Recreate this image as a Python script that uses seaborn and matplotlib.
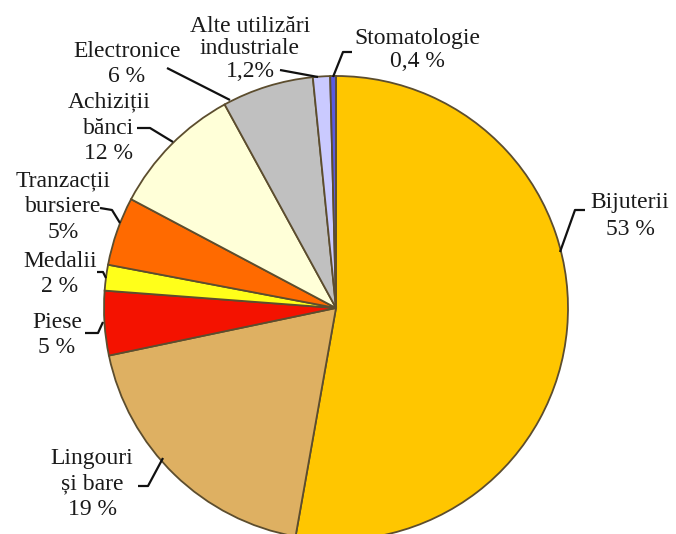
import matplotlib
matplotlib.use("Agg")
import matplotlib.pyplot as plt
import seaborn as sns

sns.set_theme(style="white")
plt.rcParams['font.family'] = 'serif'
plt.rcParams['font.serif'] = ['Liberation Serif', 'DejaVu Serif']

# Data (slice shares as drawn, clockwise from the top)
categories = ["Bijuterii", "Lingouri și bare", "Piese", "Medalii", "Tranzacții bursiere",
              "Achiziții bănci", "Electronice", "Alte utilizări industriale", "Stomatologie"]
values = [53, 19, 4.5, 1.8, 4.8, 9.3, 6.4, 1.2, 0.4]
labels = ["Bijuterii\n53 %", "Lingouri\nși bare\n19 %", "Piese\n5 %", "Medalii\n2 %",
          "Tranzacții\nbursiere\n5%", "Achiziții\nbănci\n12 %", "Electronice\n6 %",
          "Alte utilizări\nindustriale\n1,2%", "Stomatologie\n0,4 %"]
colors = ["#FFC600", "#DEB062", "#F41200", "#FFFF1A", "#FF6A00",
          "#FFFFD8", "#C0C0C0", "#CACAFF", "#5A5AE0"]

W, H = 676, 534
fig = plt.figure(figsize=(W / 100, H / 100), dpi=100)
ax = fig.add_axes([0, 0, 1, 1])

cx, cy, r = 336, H - 308, 232
ax.pie(values, colors=colors, startangle=90, counterclock=False,
       center=(cx, cy), radius=r,
       wedgeprops=dict(edgecolor="#5c4d2e", linewidth=1.3))
ax.set_xlim(0, W)
ax.set_ylim(0, H)
ax.set_aspect('equal')
ax.axis('off')

# label positions (pixel coords, y from top) and leader lines
label_pos = [(630, 216), (92, 484), (57, 335), (60, 274), (63, 207),
             (109, 128), (127, 64), (250, 49), (417, 50)]
leaders = [
    [(585, 210), (575, 210), (560, 252)],
    [(138, 486), (148, 486), (163, 458)],
    [(85, 333), (98, 333), (103, 322)],
    [(97, 272), (103, 272), (106, 278)],
    [(100, 208), (112, 210), (120, 223)],
    [(137, 128), (150, 128), (173, 142)],
    [(167, 68), (230, 100)],
    [(280, 70), (318, 77)],
    [(352, 52), (343, 52), (333, 77)],
]
spacings = [1.35, 1.3, 1.3, 1.3, 1.3, 1.3, 1.3, 1.1, 1.15]

for lab, (tx, ty), pts, ls in zip(labels, label_pos, leaders, spacings):
    ax.text(tx, H - ty, lab, ha='center', va='center', fontsize=17,
            linespacing=ls, color='#1a1a1a')
    xs = [p[0] for p in pts]
    ys = [H - p[1] for p in pts]
    ax.plot(xs, ys, color='#111111', lw=1.6, solid_capstyle='butt')

fig.savefig("out.png", dpi=100, facecolor='white')
